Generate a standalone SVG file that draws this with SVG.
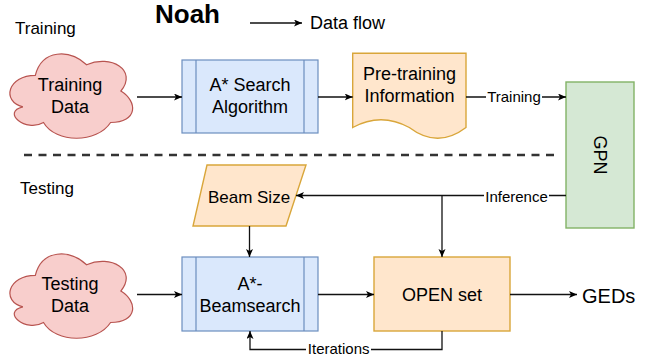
<svg xmlns="http://www.w3.org/2000/svg" width="657" height="358" viewBox="0 0 657 358">
<style>
text { font-family: "Liberation Sans", Arial, Helvetica, sans-serif; fill: #000; }
.t18 { font-size: 18px; text-anchor: middle; }
.t17 { font-size: 17px; }
.lbl { font-size: 15px; text-anchor: middle; }
.cloud { fill: #f8cecc; stroke: #b85450; stroke-width: 1.2; }
.blue { fill: #dae8fc; stroke: #6c8ebf; stroke-width: 1.2; }
.orange { fill: #ffe6cc; stroke: #d9a63a; stroke-width: 1.4; }
.green { fill: #d5e8d4; stroke: #82b366; stroke-width: 1.4; }
.edge { fill: none; stroke: #111; stroke-width: 1.3; }
.arr { marker-end: url(#ah); }
.bg { fill: #fff; }
</style>
<defs>
<marker id="ah" markerUnits="userSpaceOnUse" markerWidth="10" markerHeight="10" refX="8" refY="3.5" orient="auto">
<path d="M0,0 L8,3.5 L0,7 L2,3.5 Z" fill="#000"/>
</marker>
<path id="cloudShape" class="cloud" d="M35.3,75.3 C7.9,75.3 1,101.5 22.9,106.8 C1,112 25.7,133 43.5,122.5 C55.8,143.5 96.9,143.5 110.6,122.5 C138,122.5 138,101.5 120.9,91 C138,70 110.6,54.25 86.6,64.75 C69.5,49 42.1,49 35.3,75.3 Z"/>
</defs>

<g id="headers">
<text class="t17" x="15" y="34">Training</text>
<text x="155" y="23" style="font-size:26px;font-weight:bold">Noah</text>
<text class="t17" x="20" y="194">Testing</text>
<path d="M24,155 H560" stroke="#333" stroke-width="2.6" stroke-dasharray="8 6.5" fill="none"/>
</g>

<g id="legend">
<path class="edge arr" d="M250,23 H302"/>
<text x="310" y="29" style="font-size:18px">Data flow</text>
</g>

<g id="training-data">
<use href="#cloudShape"/>
<text class="t18" x="70" y="91">Training</text>
<text class="t18" x="70" y="113">Data</text>
</g>

<g id="astar-search">
<rect class="blue" x="182" y="60" width="136" height="73"/>
<path class="blue" d="M196,60 V133 M304,60 V133" fill="none"/>
<text class="t18" x="250" y="91">A* Search</text>
<text class="t18" x="250" y="113">Algorithm</text>
</g>

<g id="pretraining-info">
<path class="orange" d="M352.7,53.3 H466 V127.5 Q437.7,149 409.3,127.5 Q381,112 352.7,127.5 Z"/>
<text class="t18" x="409.5" y="79.5">Pre-training</text>
<text class="t18" x="409.5" y="101.5">Information</text>
</g>

<g id="gpn">
<rect class="green" x="566" y="82" width="68" height="146"/>
<text class="t18" transform="translate(600,155) rotate(90)" x="0" y="6.3">GPN</text>
</g>

<g id="beam-size">
<path class="orange" d="M207,165 H306 L286,226 H193 Z"/>
<text x="249" y="203" style="font-size:17px;text-anchor:middle">Beam Size</text>
</g>

<g id="testing-data">
<use href="#cloudShape" transform="translate(0,200)"/>
<text class="t18" x="70" y="290">Testing</text>
<text class="t18" x="70" y="312">Data</text>
</g>

<g id="astar-beamsearch">
<rect class="blue" x="182" y="257" width="136" height="74"/>
<path class="blue" d="M196,257 V331 M304,257 V331" fill="none"/>
<text class="t18" x="250" y="290">A*-</text>
<text class="t18" x="250" y="312">Beamsearch</text>
</g>

<g id="open-set">
<rect class="orange" x="374" y="257" width="136" height="74"/>
<text class="t18" x="442" y="301">OPEN set</text>
</g>

<g id="geds">
<text x="582" y="303" style="font-size:20px">GEDs</text>
</g>

<g id="connectors">
<path class="edge arr" d="M137,97 H182"/>
<path class="edge arr" d="M318,97 H352.7"/>
<path class="edge arr" d="M466,97 H566"/>
<rect class="bg" x="486" y="88" width="56" height="17"/>
<text class="lbl" x="514" y="102">Training</text>

<path class="edge arr" d="M566,195.5 H296"/>
<path class="edge arr" d="M442,195.5 V257"/>
<rect class="bg" x="484" y="187" width="65" height="17"/>
<text class="lbl" x="516.5" y="201.5">Inference</text>

<path class="edge arr" d="M442,331 V349.5 H250 V331"/>
<rect class="bg" x="306" y="342" width="65" height="15"/>
<text class="lbl" x="338.7" y="354">Iterations</text>
</g>

<g id="connectors-testing">
<path class="edge arr" d="M249.5,226 V257"/>
<path class="edge arr" d="M137,294.5 H182"/>
<path class="edge arr" d="M318,294.5 H374"/>
<path class="edge arr" d="M510,294.5 H577"/>
</g>
</svg>
